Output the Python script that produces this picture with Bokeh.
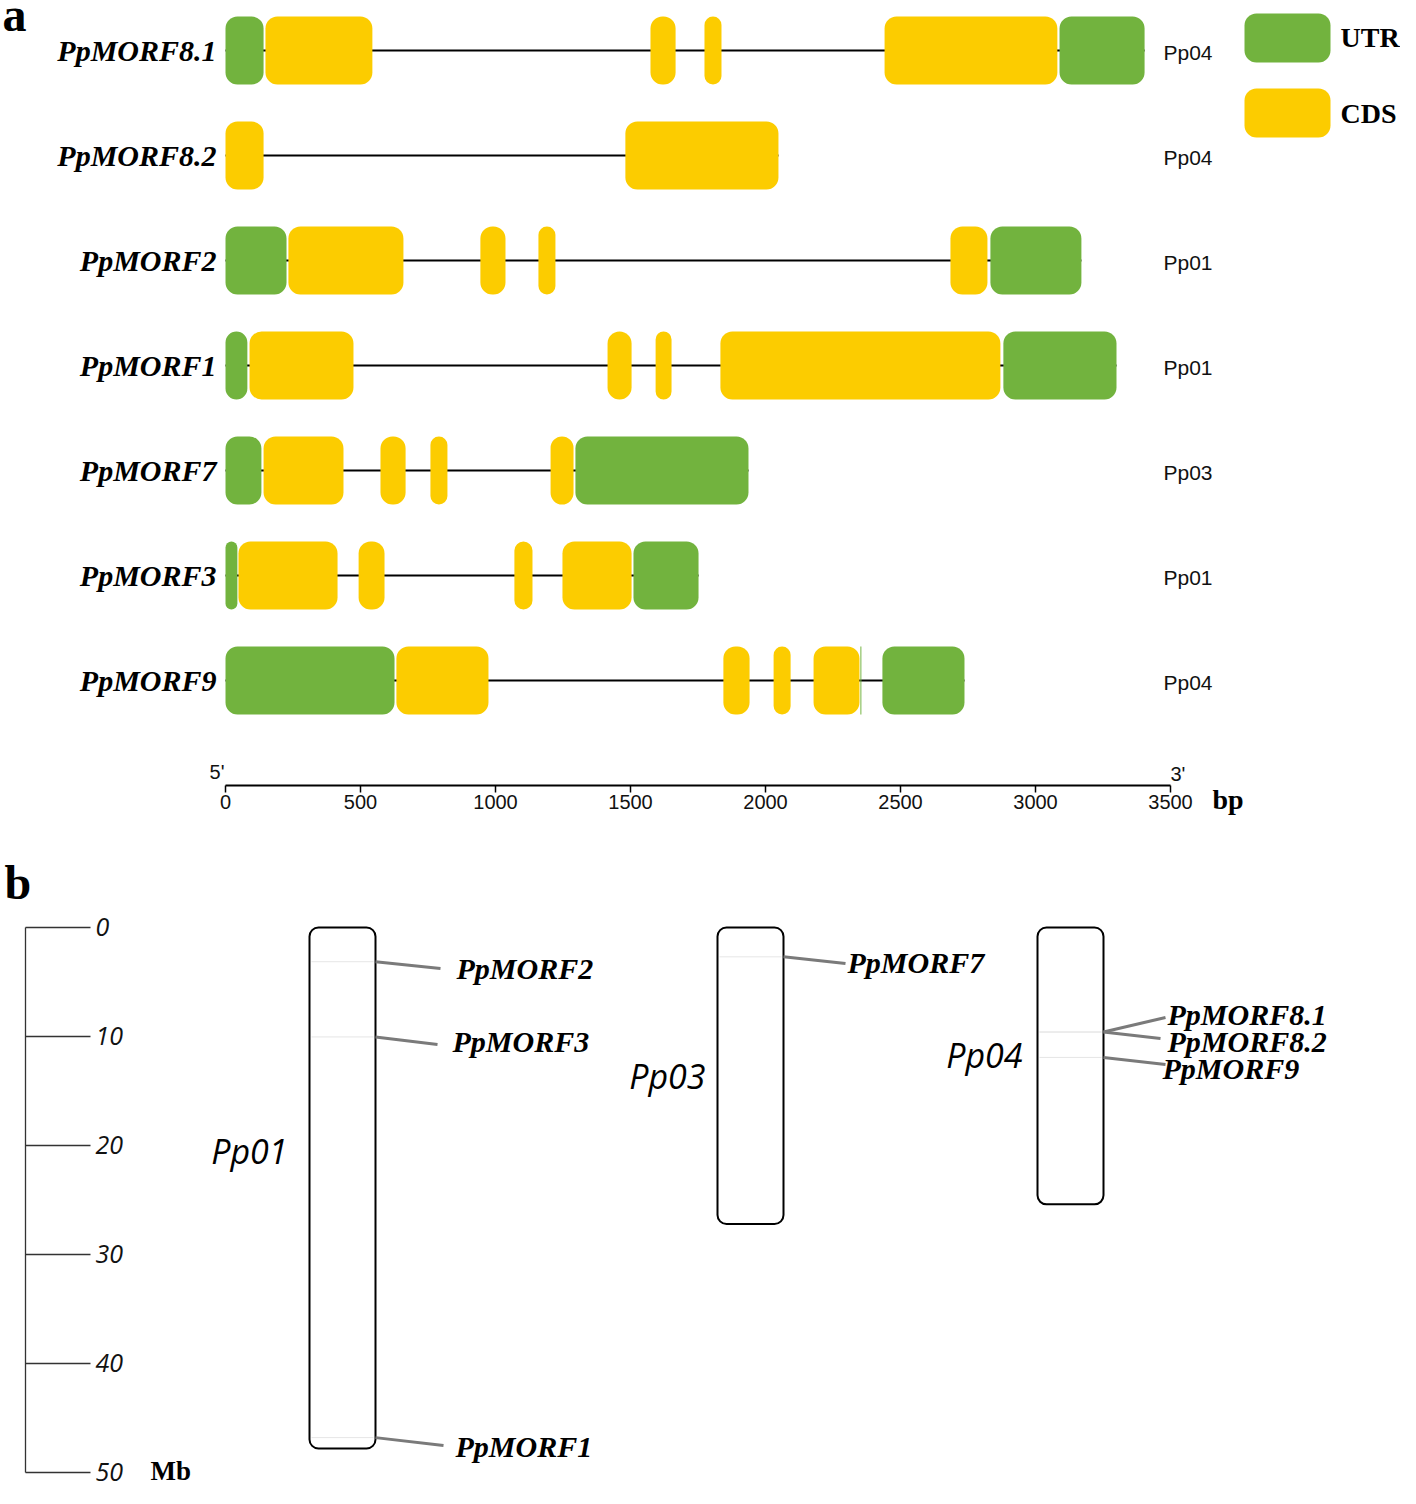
from bokeh.plotting import figure
from bokeh.models import Range1d
from bokeh.layouts import column
from bokeh.core.properties import value
from bokeh.embed import file_html
from bokeh.resources import INLINE

# ---------------- panel a data ----------------
genes = ["PpMORF8.1", "PpMORF8.2", "PpMORF2", "PpMORF1", "PpMORF7", "PpMORF3", "PpMORF9"]
gene_chrom = ["Pp04", "Pp04", "Pp01", "Pp01", "Pp03", "Pp01", "Pp04"]
gene_len = [3404, 2048, 3170, 3300, 1937, 1752, 2737]

feat_row = [0, 0, 0, 0, 0, 0,
            1, 1,
            2, 2, 2, 2, 2, 2,
            3, 3, 3, 3, 3, 3,
            4, 4, 4, 4, 4, 4,
            5, 5, 5, 5, 5, 5,
            6, 6, 6, 6, 6, 6, 6]
feat_start = [0, 148, 1574, 1774, 2441, 3089,
              0, 1481,
              0, 233, 944, 1159, 2685, 2833,
              0, 89, 1415, 1593, 1833, 2881,
              0, 141, 574, 759, 1204, 1296,
              0, 48, 493, 1070, 1248, 1511,
              0, 633, 1844, 2030, 2178, 2350, 2433]
feat_end = [141, 544, 1667, 1837, 3081, 3404,
            141, 2048,
            226, 659, 1037, 1222, 2822, 3170,
            81, 474, 1504, 1652, 2870, 3300,
            133, 437, 667, 822, 1289, 1937,
            44, 415, 589, 1137, 1504, 1752,
            626, 974, 1941, 2093, 2348, 2356, 2737]
feat_kind = ["UTR", "CDS", "CDS", "CDS", "CDS", "UTR",
             "CDS", "CDS",
             "UTR", "CDS", "CDS", "CDS", "CDS", "UTR",
             "UTR", "CDS", "CDS", "CDS", "CDS", "UTR",
             "UTR", "CDS", "CDS", "CDS", "CDS", "UTR",
             "UTR", "CDS", "CDS", "CDS", "CDS", "UTR",
             "UTR", "CDS", "CDS", "CDS", "CDS", "UTR", "UTR"]
bp_ticks = [0, 500, 1000, 1500, 2000, 2500, 3000, 3500]

# ---------------- panel b data ----------------
chroms = ["Pp01", "Pp03", "Pp04"]
chrom_len_mb = [47.8, 27.2, 25.4]
b_genes = ["PpMORF2", "PpMORF3", "PpMORF1", "PpMORF7", "PpMORF8.1", "PpMORF8.2", "PpMORF9"]
b_gene_chrom = ["Pp01", "Pp01", "Pp01", "Pp03", "Pp04", "Pp04", "Pp04"]
b_gene_pos_mb = [3.14, 10.04, 46.8, 2.69, 9.59, 9.59, 11.92]
mb_ticks = [0, 10, 20, 30, 40, 50]

UTR_COLOR = "#72B33E"
CDS_COLOR = "#FCCC00"
SERIF = value("Liberation Serif")
SANS = value("Liberation Sans")
ITSANS = value("Open Sans")

W = 1400
HA = 837
HB = 1488 - HA

# ---------------- panel a ----------------
px_per_bp = 945 / 3500.0
X0 = 225          # pixel of 0 bp
ROW0 = 50         # pixel of first row centre
ROWH = 105        # pixels per row

def bx(px):
    return (px - X0) / px_per_bp

def ry(py):
    return (py - ROW0) / ROWH

pa = figure(width=W, height=HA, x_range=Range1d(bx(0), bx(W)), y_range=Range1d(ry(HA), ry(0)),
            x_axis_type=None, y_axis_type=None, toolbar_location=None, output_backend="svg",
            min_border_left=0, min_border_right=0, min_border_top=0, min_border_bottom=0)
pa.outline_line_color = None

rows = list(range(len(genes)))
pa.segment(x0=[0] * len(rows), y0=rows, x1=gene_len, y1=rows, line_color="black", line_width=2)

half = 34 / ROWH
big = [i for i in range(len(feat_row)) if (feat_end[i] - feat_start[i]) * px_per_bp >= 5]
thin = [i for i in range(len(feat_row)) if (feat_end[i] - feat_start[i]) * px_per_bp < 5]

def cols(idx):
    return dict(left=[feat_start[i] for i in idx], right=[feat_end[i] for i in idx],
                top=[feat_row[i] - half for i in idx], bottom=[feat_row[i] + half for i in idx],
                fill_color=[UTR_COLOR if feat_kind[i] == "UTR" else CDS_COLOR for i in idx])

d = cols(big)
pa.quad(left=d["left"], right=d["right"], top=d["top"], bottom=d["bottom"],
        fill_color=d["fill_color"], line_color=None, border_radius=12)
d = cols(thin)
pa.quad(left=d["left"], right=d["right"], top=d["top"], bottom=d["bottom"],
        fill_color=d["fill_color"], line_color=None, fill_alpha=0.6)

pa.text(x=[bx(216)] * len(rows), y=rows, text=genes, text_align="right", text_baseline="middle",
        text_font=SERIF, text_font_style="bold italic", text_font_size="30px", text_color="black")
pa.text(x=[bx(1163)] * len(rows), y=[r + 0.02 for r in rows], text=gene_chrom,
        text_align="left", text_baseline="middle", text_font=SANS, text_font_size="21px",
        text_color="#111111")

# legend
pa.quad(left=[bx(1244)] * 2, right=[bx(1330)] * 2, top=[ry(13), ry(88)], bottom=[ry(62), ry(137)],
        fill_color=[UTR_COLOR, CDS_COLOR], line_color=None, border_radius=12)
pa.text(x=[bx(1340), bx(1340)], y=[ry(37), ry(113)], text=["UTR", "CDS"],
        text_align="left", text_baseline="middle", text_font=SERIF, text_font_style="bold",
        text_font_size="28px", text_color="black")

pa.text(x=[bx(2)], y=[ry(14)], text=["a"], text_align="left", text_baseline="alphabetic",
        text_font=SERIF, text_font_style="bold", text_font_size="48px", text_color="black")

# bp scale axis (drawn through the bp scale)
axis_y = ry(785)
pa.segment(x0=[bp_ticks[0]], y0=[axis_y], x1=[bp_ticks[-1]], y1=[axis_y], line_color="black", line_width=2)
pa.segment(x0=bp_ticks, y0=[axis_y] * len(bp_ticks), x1=bp_ticks, y1=[ry(792)] * len(bp_ticks),
           line_color="black", line_width=1.5)
pa.text(x=bp_ticks, y=[ry(801)] * len(bp_ticks), text=[str(t) for t in bp_ticks],
        text_align="center", text_baseline="middle", text_font=SANS, text_font_size="20px",
        text_color="#111111")
pa.text(x=[bx(224)], y=[ry(782)], text=["5'"], text_align="right", text_baseline="bottom",
        text_font=SANS, text_font_size="20px", text_color="#111111")
pa.text(x=[bx(1170)], y=[ry(784)], text=["3'"], text_align="left", text_baseline="bottom",
        text_font=SANS, text_font_size="20px", text_color="#111111")
pa.text(x=[bx(1212)], y=[ry(799)], text=["bp"], text_align="left", text_baseline="middle",
        text_font=SERIF, text_font_style="bold", text_font_size="28px", text_color="black")

# ---------------- panel b ----------------
MB0 = 927          # pixel of 0 Mb
px_per_mb = 10.9   # pixels per Mb

def my(py):
    return (py - MB0) / px_per_mb

pb = figure(width=W, height=HB, x_range=Range1d(0, W), y_range=Range1d(my(1488), my(HA)),
            x_axis_type=None, y_axis_type=None, toolbar_location=None, output_backend="svg",
            min_border_left=0, min_border_right=0, min_border_top=0, min_border_bottom=0)
pb.outline_line_color = None

# Mb scale bar
pb.segment(x0=[25], y0=[mb_ticks[0]], x1=[25], y1=[mb_ticks[-1]], line_color="#333333", line_width=1.3)
pb.segment(x0=[25] * len(mb_ticks), y0=mb_ticks, x1=[90] * len(mb_ticks), y1=mb_ticks,
           line_color="#333333", line_width=1.3)
pb.text(x=[95] * len(mb_ticks), y=[t - 0.05 for t in mb_ticks], text=[str(t) for t in mb_ticks],
        text_align="left", text_baseline="middle", text_font=ITSANS, text_font_style="italic",
        text_font_size="25px", text_color="#111111")
pb.text(x=[150], y=[mb_ticks[-1] - 0.1], text=["Mb"], text_align="left", text_baseline="middle",
        text_font=SERIF, text_font_style="bold", text_font_size="27px", text_color="black")
pb.text(x=[4], y=[my(882)], text=["b"], text_align="left", text_baseline="alphabetic",
        text_font=SERIF, text_font_style="bold", text_font_size="48px", text_color="black")

# chromosomes (layout positions)
chrom_x = {"Pp01": 309, "Pp03": 717, "Pp04": 1037}
chrom_w = 66
chrom_label_right = {"Pp01": 287, "Pp03": 705, "Pp04": 1022}
chrom_label_y = {"Pp01": my(1150), "Pp03": my(1075), "Pp04": my(1054)}

pb.quad(left=[chrom_x[c] for c in chroms], right=[chrom_x[c] + chrom_w for c in chroms],
        top=[0] * len(chroms), bottom=chrom_len_mb, fill_color="white", line_color="black",
        line_width=2, border_radius=9)
pb.text(x=[chrom_label_right[c] for c in chroms], y=[chrom_label_y[c] for c in chroms], text=chroms,
        text_align="right", text_baseline="middle", text_font=ITSANS, text_font_style="italic",
        text_font_size="34px", text_color="black")

# gene markers inside chromosomes
pb.segment(x0=[chrom_x[c] + 2 for c in b_gene_chrom], y0=b_gene_pos_mb,
           x1=[chrom_x[c] + chrom_w - 2 for c in b_gene_chrom], y1=b_gene_pos_mb,
           line_color="#e6e6e6", line_width=1)

label_x = [456, 452, 455, 847, 1167, 1167, 1162]
label_y = [my(968), my(1041), my(1446), my(962), my(1014), my(1041), my(1068)]
link_x1 = [440, 437, 443, 845, 1165, 1160, 1165]
link_y1 = [my(968), my(1044), my(1445), my(963), my(1017), my(1038), my(1064)]

pb.segment(x0=[chrom_x[c] + chrom_w for c in b_gene_chrom], y0=b_gene_pos_mb,
           x1=link_x1, y1=link_y1, line_color="#7a7a7a", line_width=3)
pb.text(x=label_x, y=label_y, text=b_genes, text_align="left", text_baseline="middle",
        text_font=SERIF, text_font_style="bold italic", text_font_size="30px", text_color="black")

layout = column(pa, pb, spacing=0)
open("out.html", "w").write(file_html(layout, INLINE))
